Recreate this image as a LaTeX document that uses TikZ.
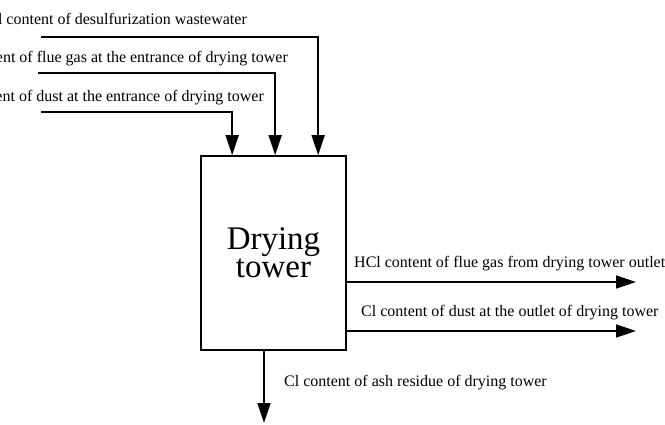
\documentclass[tikz,border=0pt]{standalone}
\usepackage{fontspec}
\setmainfont{Liberation Serif}
\usetikzlibrary{positioning,arrows.meta,calc}

\begin{document}
\begin{tikzpicture}[
  x=1pt, y=-1pt,
  font=\fontsize{16}{18}\selectfont,
  towerbox/.style={
    draw=black, line width=1.7pt, minimum width=145pt, minimum height=194pt,
    align=center, inner sep=0pt, font=\fontsize{33}{28}\selectfont,
  },
  flow/.style={-{Triangle[length=20pt, width=13pt]}, line width=1.7pt},
  flowlabel/.style={inner sep=0pt},
]
\useasboundingbox (0,0) rectangle (665,424);
\clip (0,0) rectangle (665,424);

% Drying tower
\node[towerbox] (tower) at (273.5,253) {Drying\\tower};

% Inputs from the left
\coordinate (wwin) at (41,37);
\coordinate (gasin) at (38,73);
\coordinate (dustin) at (41,112);
\node[flowlabel, anchor=base east] (wwtext) at (247,24) {Cl content of desulfurization wastewater};
\node[flowlabel, anchor=base east] (gastext) at (288,62) {HCl content of flue gas at the entrance of drying tower};
\node[flowlabel, anchor=base east] (dusttext) at (264,101) {Cl content of dust at the entrance of drying tower};

\draw[flow] (wwin) -| ([xshift=118pt]tower.north west);
\draw[flow] (gasin) -| ([xshift=75pt]tower.north west);
\draw[flow] (dustin) -| ([xshift=32pt]tower.north west);

% Outputs to the right
\coordinate (hclout) at (636,282);
\coordinate (dustout) at (636,331);
\node[flowlabel, anchor=base west] (hcltext) at (354,267) {HCl content of flue gas from drying tower outlet};
\node[flowlabel, anchor=base west] (dustouttext) at (361,316) {Cl content of dust at the outlet of drying tower};

\draw[flow] (tower.east |- hclout) -- (hclout);
\draw[flow] (tower.east |- dustout) -- (dustout);

% Output downwards
\coordinate (ashout) at (264,423);
\node[flowlabel, anchor=base west] (ashtext) at (284,386) {Cl content of ash residue of drying tower};

\draw[flow] (tower.south -| ashout) -- (ashout);

\end{tikzpicture}
\end{document}
